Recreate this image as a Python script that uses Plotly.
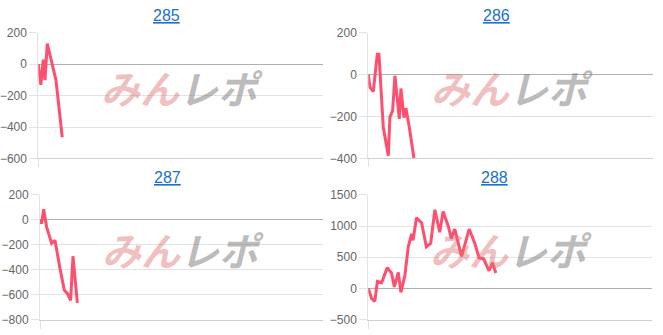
import plotly.graph_objects as go

W, H = 663, 335

titles = ["285", "286", "287", "288"]

games_285 = [0, 90, 175, 235, 315, 620, 840]
diff_285 = [0, -131, 30, -101, 131, -101, -465]

games_286 = [0, 58, 175, 316, 374, 526, 702, 760, 854, 936, 1088, 1146, 1251, 1322, 1439, 1602]
diff_286 = [0, -60, -81, 98, 98, -250, -387, -203, -173, -5, -211, -66, -205, -160, -250, -398]

games_287 = [0, 59, 129, 235, 412, 529, 706, 859, 965, 1082, 1165, 1318]
diff_287 = [0, -30, 85, -60, -189, -164, -390, -565, -590, -645, -292, -665]

games_288 = [0, 120, 230, 320, 470, 670, 820, 920, 1060, 1150, 1290, 1410, 1530, 1580,
             1700, 1880, 2050, 2200, 2350, 2520, 2640, 2820, 2930, 3050, 3290, 3560,
             3760, 3910, 4070, 4260, 4380, 4500]
diff_288 = [0, -164, -205, 113, 92, 334, 247, 26, 257, -62, 205, 668, 874, 771,
            1131, 1054, 668, 720, 1260, 900, 1234, 1002, 797, 951, 514, 951,
            720, 488, 473, 283, 411, 247]

y_ranges = [[-600, 200], [-400, 200], [-800, 200], [-500, 1500]]
y_dticks = [200, 200, 200, 500]
x_range = [0, 10000]

series = [(games_285, diff_285), (games_286, diff_286), (games_287, diff_287), (games_288, diff_288)]

# pixel boxes of plot areas: (left, right, top, bottom)
boxes = [(38.3, 323.3, 27, 158), (368.3, 653, 27, 158),
         (40, 323.3, 196, 326.3), (368.3, 651.7, 196, 326.3)]
title_pos = [(166, 9), (496, 9), (167, 178), (494, 178)]

fig = go.Figure()
LINE = "#ff4f6e"
GRID = "#e3e3e3"

for i, ((gx, gy), box) in enumerate(zip(series, boxes)):
    n = "" if i == 0 else str(i + 1)
    l, r, t, b = box
    fig.add_trace(go.Scatter(x=gx, y=gy, mode="lines", xaxis="x" + n, yaxis="y" + n,
                             line=dict(color=LINE, width=3), hoverinfo="skip", showlegend=False))
    fig.layout["xaxis" + n] = dict(domain=[l / W, r / W], anchor="y" + n, range=x_range,
                                   showgrid=False, zeroline=False, showticklabels=False,
                                   showline=True, linecolor="#cfcfcf", linewidth=1,
                                   ticks="outside", tickvals=[0], ticklen=8, tickcolor=GRID,
                                   fixedrange=True)
    fig.layout["yaxis" + n] = dict(domain=[1 - b / H, 1 - t / H], anchor="x" + n,
                                   range=y_ranges[i], dtick=y_dticks[i], tick0=0,
                                   showgrid=True, gridcolor=GRID, gridwidth=1,
                                   zeroline=True, zerolinecolor="#b0b0b0", zerolinewidth=1,
                                   showline=True, linecolor=GRID, linewidth=1,
                                   ticks="outside", ticklen=8, tickcolor=GRID,
                                   tickfont=dict(family="Liberation Sans, Arial", size=12, color="#666666"),
                                   fixedrange=True)
    tx, ty = title_pos[i]
    fig.add_annotation(x=tx / W, y=1 - ty / H, xref="paper", yref="paper", showarrow=False,
                       text="<u>" + titles[i] + "</u>", xanchor="center", yanchor="middle",
                       font=dict(family="Liberation Sans, Arial", size=16, color="#1a6fcf"))
    # watermark
    cx = (l + r) / 2 + 1
    cy = (t + b) / 2 - 9
    fig.add_annotation(x=cx / W, y=1 - cy / H, xref="paper", yref="paper", showarrow=False,
                       xanchor="center", yanchor="middle",
                       text="<b><i><span style='color:rgba(225,110,110,0.45)'>みん</span>"
                            "<span style='color:rgba(130,130,130,0.55)'>レポ</span></i></b>",
                       font=dict(family="Noto Sans CJK JP", size=39))

fig.update_layout(width=W, height=H, margin=dict(l=0, r=0, t=0, b=0),
                  paper_bgcolor="white", plot_bgcolor="white")

fig.write_html("out.html", config={"displayModeBar": False})
